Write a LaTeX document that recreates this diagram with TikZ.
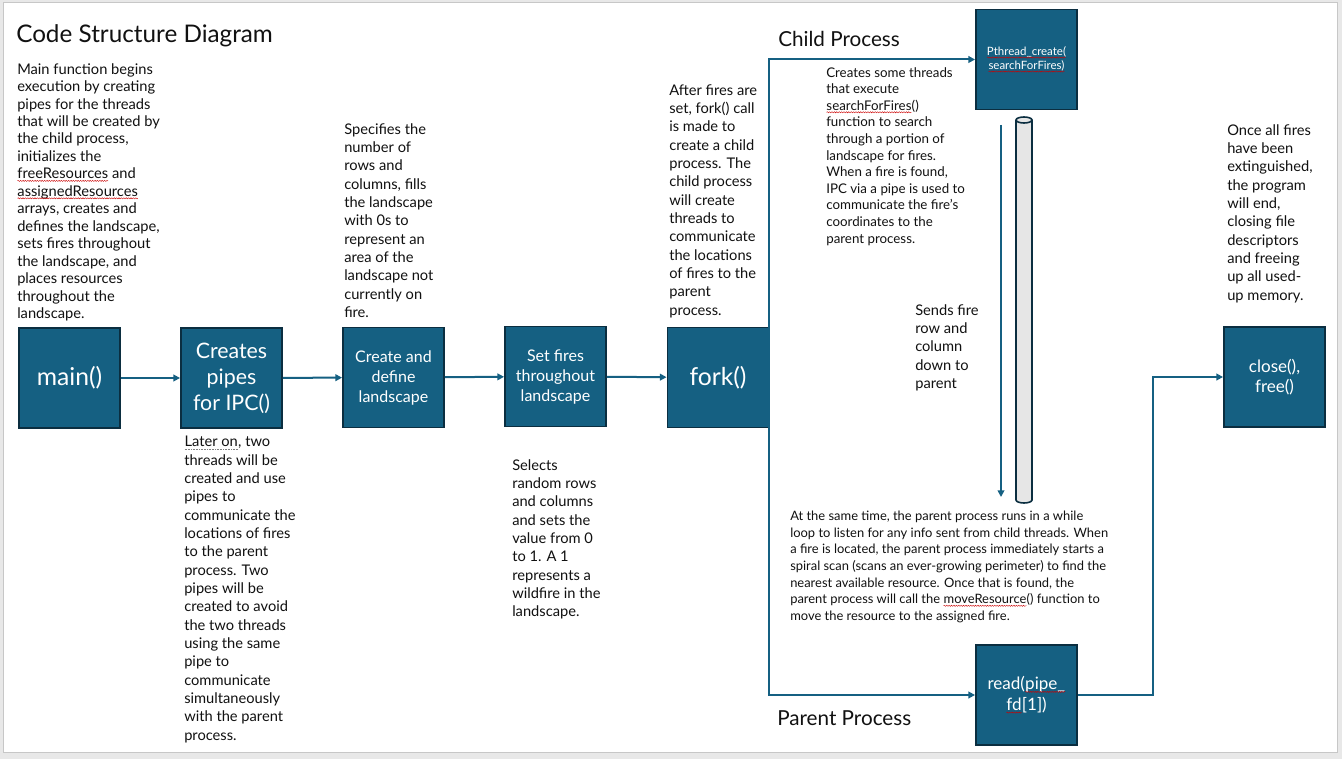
\documentclass[tikz,border=0pt]{standalone}
\usepackage{fontspec}
\setmainfont{Lato}
\usetikzlibrary{arrows.meta,decorations.pathmorphing}
\definecolor{boxfill}{HTML}{156082}
\definecolor{boxline}{HTML}{0B2E40}
\definecolor{pipegray}{HTML}{E6E6E6}
\definecolor{pagegray}{HTML}{E8E8E8}
\definecolor{txt}{HTML}{111111}
\newcommand\sq[1]{\tikz[baseline=(w.base),x=1cm,y=1cm]{\node[rectangle,draw=none,fill=none,inner sep=0pt,outer sep=0pt,minimum size=0pt,anchor=base] (w) {#1};\draw[red!80!black,line width=0.3pt,decorate,decoration={snake,amplitude=0.45pt,segment length=1.8pt}] ([yshift=-1.5pt]w.base west) -- ([yshift=-1.5pt]w.base east);}}
\newcommand\dt[1]{\tikz[baseline=(w.base),x=1cm,y=1cm]{\node[rectangle,draw=none,fill=none,inner sep=0pt,outer sep=0pt,minimum size=0pt,anchor=base] (w) {#1};\draw[gray,line width=0.5pt,dash pattern=on 0.6pt off 0.6pt] ([yshift=-1.6pt]w.base west) -- ([yshift=-1.6pt]w.base east);}}
\begin{document}
\begin{tikzpicture}[x=0.75pt,y=-0.75pt,
  fbox/.style={rectangle,draw=boxline,fill=boxfill,line width=1.4pt,text=white,
    minimum width=75.75pt,minimum height=75pt,inner sep=1pt,align=center},
  big/.style={font=\fontsize{18.5}{22}\selectfont},
  mid/.style={font=\fontsize{16}{19.5}\selectfont},
  sm/.style={font=\fontsize{12}{15}\selectfont},
  note/.style={anchor=north west,inner sep=0pt,align=left,text=txt,font=\fontsize{11}{13.75}\selectfont},
  notem/.style={note,font=\fontsize{11}{13.1}\selectfont},
  notes/.style={note,font=\fontsize{10}{12.45}\selectfont},
  head/.style={anchor=west,inner sep=0pt,text=txt},
  arr/.style={draw=boxfill,line width=1.5pt,-{Triangle[length=5pt,width=5pt]}},
  pipestyle/.style={draw=boxline,fill=pipegray,line width=1.2pt}]
\useasboundingbox (0,0) rectangle (1342,759);
\fill[pagegray] (0,0) rectangle (1342,759);
\draw[fill=white,draw=black!22,line width=0.6pt] (3,2) rectangle (1337,752);

% title and headings
\node[head,font=\fontsize{18.2}{22}\selectfont] (title) at (16,36) {Code Structure Diagram};
\node[head,font=\fontsize{15.5}{18}\selectfont] (child) at (778,39) {Child Process};
\node[head,font=\fontsize{15.5}{18}\selectfont] (parent) at (777,718) {Parent Process};

% boxes
\node[fbox,big] (main) at (69.5,378) {main()};
\node[fbox,mid] (pipes) at (231.5,378) {Creates\\pipes\\for IPC()};
\node[fbox,sm] (land) at (393.5,377.5) {Create and\\define\\landscape};
\node[fbox,sm] (fires) at (555.5,376.5) {Set fires\\throughout\\landscape};
\node[fbox,big] (fork) at (718,377.5) {fork()};
\node[fbox,font=\fontsize{8.6}{10.5}\selectfont] (pth) at (1026.5,59.5) {\sq{Pthread\_create(}\\\sq{searchForFires)}};
\node[fbox,font=\fontsize{12.8}{15.5}\selectfont] (read) at (1026.5,695) {read(\sq{pipe\_}\\\sq{fd}[1])};
\node[fbox,font=\fontsize{12.8}{15.5}\selectfont] (close) at (1274.5,377) {close(),\\free()};

% pipe
\draw[pipestyle] (1016,120) -- (1016,500) arc[start angle=180,end angle=0,x radius=8,y radius=3]
  -- (1032,120) arc[start angle=0,end angle=-180,x radius=8,y radius=3] -- cycle;
\draw[pipestyle,fill=none] (1016,120) arc[start angle=180,end angle=0,x radius=8,y radius=3];

% connectors
\draw[arr] (main) -- (pipes);
\draw[arr] (pipes) -- (land);
\draw[arr] (land) -- (fires);
\draw[arr] (fires) -- (fork);
\draw[arr] (fork.east) |- (pth.west);
\draw[arr] (fork.east) |- (read.west);
\draw[arr] (read.east) -- ++(75,0) |- (close.west);
\coordinate (s1) at (1001,125);
\coordinate (s2) at (1001,497);
\draw[arr] (s1) -- (s2);

% notes
\node[notem] (nmain) at (17,63) {Main function begins\\execution by creating\\pipes for the threads\\that will be created by\\the child process,\\initializes the\\\sq{freeResources} and\\\sq{assignedResources}\\arrays, creates and\\defines the landscape,\\sets fires throughout\\the landscape, and\\places resources\\throughout the\\landscape.};
\node[note] (nspec) at (344,123) {Specifies the\\number of\\rows and\\columns, fills\\the landscape\\with 0s to\\represent an\\area of the\\landscape not\\currently on\\fire.};
\node[note] (nfork) at (669,84) {After fires are\\set, fork() call\\is made to\\create a child\\process. The\\child process\\will create\\threads to\\communicate\\the locations\\of fires to the\\parent\\process.};
\node[notes] (nthr) at (826,67) {Creates some threads\\that execute\\\sq{searchForFires}()\\function to search\\through a portion of\\landscape for fires.\\When a fire is found,\\IPC via a pipe is used to\\communicate the fire’s\\coordinates to the\\parent process.};
\node[note] (nsend) at (915,304) {Sends fire\\row and\\column\\down to\\parent};
\node[notes,font=\fontsize{9.7}{12.45}\selectfont] (npar) at (790,511) {At the same time, the parent process runs in a while\\loop to listen for any info sent from child threads. When\\a fire is located, the parent process immediately starts a\\spiral scan (scans an ever-growing perimeter) to find the\\nearest available resource. Once that is found, the\\parent process will call the \sq{moveResource}() function to\\move the resource to the assigned fire.};
\node[note] (nlater) at (184,436) {\dt{Later on}, two\\threads will be\\created and use\\pipes to\\communicate the\\locations of fires\\to the parent\\process. Two\\pipes will be\\created to avoid\\the two threads\\using the same\\pipe to\\communicate\\simultaneously\\with the parent\\process.};
\node[note] (nsel) at (512,459) {Selects\\random rows\\and columns\\and sets the\\value from 0\\to 1. A 1\\represents a\\wildfire in the\\landscape.};
\node[note] (nend) at (1227,124) {Once all fires\\have been\\extinguished,\\the program\\will end,\\closing file\\descriptors\\and freeing\\up all used-\\up memory.};
\end{tikzpicture}
\end{document}
